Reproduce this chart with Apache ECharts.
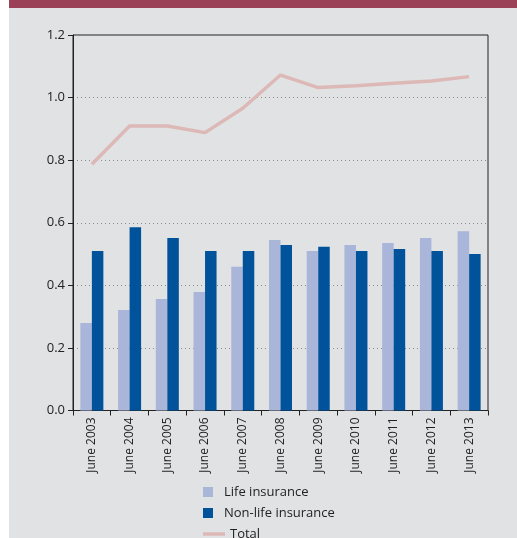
<!DOCTYPE html>
<html><head><meta charset="utf-8">
<script src="https://cdn.jsdelivr.net/npm/echarts@6/dist/echarts.min.js"></script>
<style>html,body{margin:0;padding:0;background:#fff;}#c{width:517px;height:538px;}</style>
</head><body><div id="c"></div>
<script>
const categories = ['June 2003','June 2004','June 2005','June 2006','June 2007','June 2008','June 2009','June 2010','June 2011','June 2012','June 2013'];
const lifeInsurance = [0.280,0.321,0.356,0.379,0.459,0.545,0.510,0.529,0.535,0.551,0.573];
const nonLifeInsurance = [0.510,0.586,0.551,0.510,0.510,0.529,0.523,0.510,0.516,0.510,0.500];
const total = [0.787,0.909,0.909,0.888,0.966,1.072,1.032,1.038,1.046,1.053,1.067];
const yTicks = [0,0.2,0.4,0.6,0.8,1.0,1.2];

const chart = echarts.init(document.getElementById('c'), null, {renderer:'canvas'});
const font = '"Open Sans", "Liberation Sans", sans-serif';
function legendAt(top, name, icon){
  return {
    orient:'vertical', left:203, top:top, itemWidth:22, itemHeight:10, itemGap:0, padding:0,
    textStyle:{fontSize:13, color:'#222', lineHeight:14, fontFamily:font},
    data:[{name:name, icon:icon}]
  };
}
chart.setOption({
  animation:false,
  textStyle:{fontFamily:font},
  graphic:[
    {type:'rect', z:-10, shape:{x:9,y:0,width:508,height:538}, style:{fill:'#e1e2e4'}},
    {type:'rect', z:-9, shape:{x:9,y:0,width:508,height:8}, style:{fill:'#9b4157'}}
  ],
  grid:{left:73,right:29,top:35,bottom:127.5,show:true,borderColor:'#222',borderWidth:1,backgroundColor:'transparent'},
  legend:[
    legendAt(485,'Life insurance','path://M0,0h10v10h-10z'),
    legendAt(506,'Non-life insurance','path://M0,0h10v10h-10z'),
    legendAt(527,'Total','path://M0,0h22v3.5h-22z')
  ],
  xAxis:{
    type:'category', data:categories, boundaryGap:true,
    axisLine:{lineStyle:{color:'#222',width:1}},
    axisTick:{show:true,length:5,lineStyle:{color:'#222'}},
    axisLabel:{rotate:90, color:'#222', fontSize:12, margin:7, fontFamily:font},
    splitLine:{show:false}
  },
  yAxis:{
    type:'value', min:0, max:1.2, interval:0.2,
    axisLine:{show:true,lineStyle:{color:'#222',width:1}},
    axisTick:{show:true,length:5,lineStyle:{color:'#222'}},
    axisLabel:{color:'#222', fontSize:13, margin:8, fontFamily:font, formatter:v=>v.toFixed(1)},
    splitLine:{show:true,lineStyle:{color:'#8c8c8c',type:[1,3],width:1}}
  },
  series:[
    {name:'Life insurance', type:'bar', data:lifeInsurance, barGap:'0%', barCategoryGap:'39%', itemStyle:{color:'#a9b5d9'}},
    {name:'Non-life insurance', type:'bar', data:nonLifeInsurance, barGap:'0%', barCategoryGap:'39%', itemStyle:{color:'#00529b'}},
    {name:'Total', type:'line', data:total, symbol:'none', lineStyle:{color:'#dcb8b6',width:3.5}, itemStyle:{color:'#dcb8b6'}, z:5}
  ]
});
</script></body></html>
